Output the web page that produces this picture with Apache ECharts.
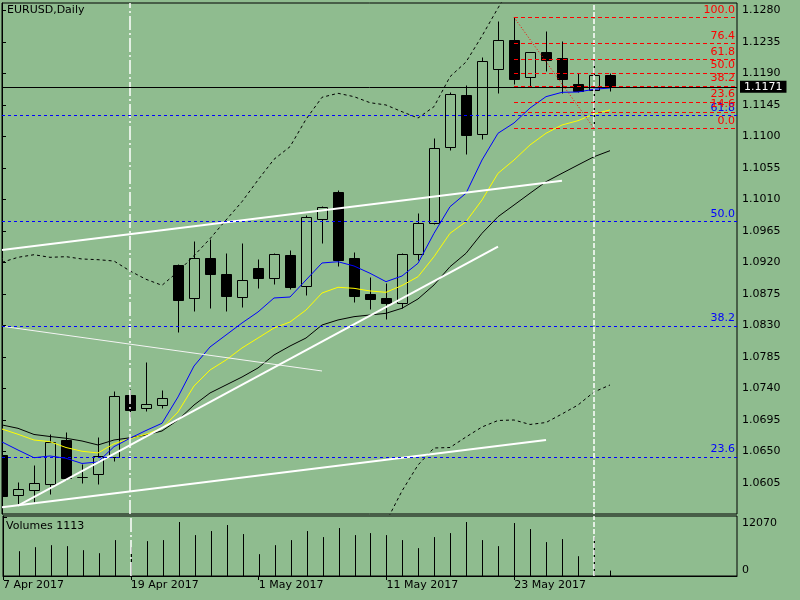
<!DOCTYPE html>
<html><head><meta charset="utf-8">
<script src="https://cdn.jsdelivr.net/npm/echarts@6/dist/echarts.min.js"></script>
<style>html,body{margin:0;padding:0;background:#8fbc8f;}#c{width:800px;height:600px;}</style>
</head><body><div id="c"></div>
<script>
const dates = ['2017-04-07','2017-04-10','2017-04-11','2017-04-12','2017-04-13','2017-04-14','2017-04-17','2017-04-18','2017-04-19','2017-04-20','2017-04-21','2017-04-24','2017-04-25','2017-04-26','2017-04-27','2017-04-28','2017-05-01','2017-05-02','2017-05-03','2017-05-04','2017-05-05','2017-05-08','2017-05-09','2017-05-10','2017-05-11','2017-05-12','2017-05-15','2017-05-16','2017-05-17','2017-05-18','2017-05-19','2017-05-22','2017-05-23','2017-05-24','2017-05-25','2017-05-26','2017-05-29','2017-05-30','2017-05-31'];
const open  = [1.06450,1.05874,1.05946,1.06031,1.06660,1.06136,1.06174,1.06417,1.07303,1.07117,1.07164,1.09164,1.08689,1.09260,1.09031,1.08711,1.09117,1.08983,1.09303,1.08869,1.09826,1.10203,1.09260,1.08746,1.08693,1.08617,1.09317,1.09760,1.10846,1.11589,1.11040,1.11969,1.12374,1.11846,1.12203,1.12117,1.11746,1.11660,1.11874];
const high  = [1.06521,1.06060,1.06303,1.06746,1.06774,1.06321,1.06703,1.07364,1.07389,1.07774,1.07379,1.09179,1.09507,1.09536,1.09336,1.09479,1.09250,1.09336,1.09379,1.09883,1.10011,1.10236,1.09346,1.08997,1.08911,1.09340,1.09903,1.10983,1.11640,1.11736,1.12131,1.12650,1.12703,1.12207,1.12507,1.12360,1.11911,1.12093,1.11903];
const low   = [1.05807,1.05736,1.05783,1.05889,1.06093,1.06054,1.06031,1.06369,1.06997,1.07083,1.07121,1.08211,1.08511,1.08554,1.08511,1.08569,1.08840,1.08889,1.08821,1.08736,1.09483,1.09154,1.08640,1.08531,1.08389,1.08546,1.09236,1.09750,1.10807,1.10750,1.10969,1.11626,1.11754,1.11703,1.11940,1.11617,1.11636,1.11117,1.11654];
const close = [1.05869,1.05960,1.06046,1.06631,1.06126,1.06138,1.06431,1.07297,1.07097,1.07174,1.07269,1.08669,1.09260,1.09040,1.08726,1.08946,1.08983,1.09317,1.08850,1.09846,1.09989,1.09236,1.08726,1.08674,1.08617,1.09317,1.09760,1.10831,1.11603,1.11026,1.12074,1.12374,1.11826,1.12203,1.12093,1.11826,1.11646,1.11874,1.11710];
const volume = [6000,5100,5930,6340,6140,5310,4690,7380,5930,7170,7380,11100,8410,9240,10480,8620,4490,6340,7380,9240,8000,9860,8410,8820,8410,7380,5730,8000,8820,11100,7380,6140,10890,9650,6970,7590,4070,8000,1113];
const maBlue   = [1.06636,1.06521,1.06411,1.06436,1.06403,1.06329,1.06350,1.06569,1.06689,1.06800,1.06903,1.07279,1.07721,1.07993,1.08164,1.08336,1.08493,1.08693,1.08707,1.08950,1.09193,1.09211,1.09150,1.09046,1.08926,1.09007,1.09189,1.09617,1.09997,1.10189,1.10664,1.11046,1.11193,1.11407,1.11569,1.11631,1.11636,1.11674,1.11693];
const maYellow = [1.06821,1.06746,1.06664,1.06640,1.06557,1.06503,1.06479,1.06611,1.06683,1.06747,1.06829,1.07064,1.07436,1.07664,1.07807,1.07979,1.08121,1.08264,1.08350,1.08521,1.08764,1.08846,1.08831,1.08793,1.08774,1.08871,1.08997,1.09283,1.09617,1.09783,1.10093,1.10474,1.10664,1.10879,1.11046,1.11164,1.11226,1.11321,1.11379];
const maBlack  = [1.06879,1.06831,1.06743,1.06714,1.06689,1.06650,1.06593,1.06664,1.06696,1.06736,1.06793,1.06950,1.07164,1.07336,1.07450,1.07564,1.07693,1.07879,1.08007,1.08121,1.08307,1.08379,1.08426,1.08450,1.08474,1.08546,1.08679,1.08879,1.09140,1.09331,1.09617,1.09854,1.10021,1.10189,1.10354,1.10474,1.10593,1.10711,1.10797];
const bbUpper = [1.09203,1.09274,1.09311,1.09274,1.09283,1.09250,1.09240,1.09221,1.09079,1.08960,1.08874,1.09069,1.09297,1.09540,1.09807,1.10069,1.10379,1.10674,1.10854,1.11246,1.11560,1.11617,1.11569,1.11483,1.11450,1.11354,1.11264,1.11426,1.11854,1.12064,1.12436,1.12836,1.13207,null,null,null,null,null,null];
const bbLower = [null,null,null,null,null,null,null,null,null,null,null,null,null,null,null,null,null,null,null,null,null,null,null,null,1.05493,1.05936,1.06307,1.06550,1.06557,1.06707,1.06850,1.06943,1.06950,1.06886,1.06914,1.07036,1.07164,1.07350,1.07450];
const priceTicks = [1.0605,1.0650,1.0695,1.0740,1.0785,1.0830,1.0875,1.0920,1.0965,1.1010,1.1055,1.1100,1.1145,1.1190,1.1235,1.1280];
const dateTickIdx = [0,8,16,24,32];
const dateTickLabels = ['7 Apr 2017','19 Apr 2017','1 May 2017','11 May 2017','23 May 2017'];
const volTicks = [0,12070];
const fibRedLevels = ['100.0','76.4','61.8','50.0','38.2','23.6','14.6','0.0'];
const fibRedPrices = [1.12703,1.12329,1.12097,1.11910,1.11723,1.11491,1.11349,1.11117];
const fibBlueLevels = ['61.8','50.0','38.2','23.6'];
const fibBluePrices = [1.11303,1.09789,1.08293,1.06421];
const fibTrend = [[32,1.12703],[37,1.11117]];
const lastPrice = 1.1171;
const trendThick = [[[0,1.09379],[35,1.10369]],[[1,1.05726],[31,1.09426]],[[0,1.05705],[34,1.06664]]];
const trendThin = [[0,1.08289],[20,1.07650]];
const vLines = [8,37];

const BG = '#8fbc8f';
const FONT = 'DejaVu Sans';
const X_MAX = 45.9375;

const candleData = dates.map((d,i)=>[i, open[i], close[i], low[i], high[i]]);
const volData = volume.map((v,i)=>[i,v]);
const toXY = arr => arr.map((v,i)=>[i,v]).filter(p=>p[1]!==null);

function renderCandle(params, api){
  const i = api.value(0);
  const o = api.coord([i, api.value(1)]);
  const c = api.coord([i, api.value(2)]);
  const l = api.coord([i, api.value(3)]);
  const h = api.coord([i, api.value(4)]);
  const x = Math.round(o[0]) + 0.5;
  const bull = api.value(2) >= api.value(1);
  const top = Math.round(Math.min(o[1], c[1])) + 0.5;
  let bot = Math.round(Math.max(o[1], c[1])) + 0.5;
  return {type:'group', children:[
    {type:'line', shape:{x1:x, y1:Math.round(h[1])+0.5, x2:x, y2:Math.round(l[1])+0.5}, style:{stroke:'#000', lineWidth:1}},
    {type:'rect', shape:{x:x-5, y:top, width:10, height:Math.max(bot-top,0)}, style:{fill: bull ? BG : '#000', stroke:'#000', lineWidth:1}}
  ]};
}
function renderVol(params, api){
  const i = api.value(0);
  const p0 = api.coord([i, 0]);
  const p1 = api.coord([i, api.value(1)]);
  const x = Math.round(p0[0]) + 0.5;
  return {type:'line', shape:{x1:x, y1:p0[1], x2:x, y2:p1[1]}, style:{stroke:'#000', lineWidth:1}};
}

const txt = {fontFamily: FONT, fontSize: 11, color: '#000'};
const lineSeries = (data, color, dash) => ({
  type:'line', xAxisIndex:0, yAxisIndex:0, data: toXY(data), symbol:'none', z:3, silent:true,
  lineStyle:{color, width:1, type: dash || 'solid'}, emphasis:{disabled:true}
});
const helper = (xi, z, markLine) => ({type:'line', xAxisIndex:xi, yAxisIndex:xi, data:[], z, silent:true,
  markLine: Object.assign({symbol:'none', silent:true, precision:5, animation:false, emphasis:{disabled:true}}, markLine)});

const vLineStyles = [{color:'#fff', width:1.5, type:[14,3,2,3]}, {color:'#fff', width:1.5, type:[5,2]}];

const option = {
  backgroundColor: BG,
  animation: false,
  textStyle: {fontFamily: FONT},
  title: [
    {text:'EURUSD,Daily', left:7, top:5, padding:0, textStyle:Object.assign({fontWeight:'normal'}, txt)},
    {text:'Volumes ' + volume[volume.length-1], left:6, top:521, padding:0, textStyle:Object.assign({fontWeight:'normal'}, txt)}
  ],
  grid: [
    {left:2, right:63, top:3, height:511, show:true, borderColor:'#000', borderWidth:1, backgroundColor:'transparent'},
    {left:2, right:63, top:516, height:60, show:true, borderColor:'#000', borderWidth:1, backgroundColor:'transparent'}
  ],
  xAxis: [
    {type:'value', gridIndex:0, min:0, max:X_MAX, show:false},
    {type:'value', gridIndex:1, min:0, max:X_MAX, splitLine:{show:false},
     axisLine:{show:true, onZero:false, lineStyle:{color:'#000', width:1}},
     axisTick:{show:true, customValues:dateTickIdx, length:4, lineStyle:{color:'#000'}},
     axisLabel:Object.assign({customValues:dateTickIdx, align:'left', margin:4,
       formatter:v=>dateTickLabels[dateTickIdx.indexOf(v)]}, txt)}
  ],
  yAxis: [
    {type:'value', gridIndex:0, position:'right', min:1.05607, max:1.12907, splitLine:{show:false},
     axisLine:{show:true, lineStyle:{color:'#000', width:1}},
     axisTick:{show:true, customValues:priceTicks, length:4, lineStyle:{color:'#000'}},
     axisLabel:Object.assign({customValues:priceTicks, margin:5, formatter:v=>v.toFixed(4)}, txt)},
    {type:'value', gridIndex:1, position:'right', min:0, max:12337, splitLine:{show:false},
     axisLine:{show:true, lineStyle:{color:'#000', width:1}},
     axisTick:{show:true, customValues:volTicks, length:4, lineStyle:{color:'#000'}},
     axisLabel:Object.assign({customValues:volTicks, margin:5,
       formatter:v=> v===0 ? '{b|'+v+'}' : '{t|'+v+'}',
       rich:{t:Object.assign({padding:[12,0,0,0]}, txt), b:Object.assign({padding:[0,0,12,0]}, txt)}}, txt)}
  ],
  series: [
    helper(0, 1, {data: vLines.map((v,k)=>({xAxis:v, lineStyle:vLineStyles[k]})), label:{show:false}}),
    helper(1, 1, {data: vLines.map((v,k)=>({xAxis:v, lineStyle:vLineStyles[k]})), label:{show:false}}),
    {type:'custom', xAxisIndex:0, yAxisIndex:0, renderItem:renderCandle, data:candleData, clip:true, z:2, silent:true,
     encode:{x:0, y:[1,2,3,4]}},
    {type:'custom', xAxisIndex:1, yAxisIndex:1, renderItem:renderVol, data:volData, clip:true, z:2, silent:true,
     encode:{x:0, y:1}},
    lineSeries(bbUpper, '#000', [3,3]),
    lineSeries(bbLower, '#000', [3,3]),
    lineSeries(maBlack, '#000'),
    lineSeries(maYellow, '#ffff00'),
    lineSeries(maBlue, '#0000ff'),
    helper(0, 4, {data: trendThick.map(s=>[{coord:s[0]},{coord:s[1]}]), lineStyle:{color:'#fff', width:2, type:'solid'}, label:{show:false}}),
    helper(0, 4, {data: [[{coord:trendThin[0]},{coord:trendThin[1]}]], lineStyle:{color:'#f4f4f4', width:1, type:'solid'}, label:{show:false}}),
    helper(0, 4, {data: fibBluePrices.map((p,k)=>[{name:fibBlueLevels[k], coord:[0,p]},{coord:[X_MAX,p]}]),
      lineStyle:{color:'#0000ff', width:1, type:[3,3]},
      label:Object.assign({show:true, position:'insideEndTop', formatter:'{b}', distance:[2,2]}, txt, {color:'#0000ff'})}),
    helper(0, 4, {data: fibRedPrices.map((p,k)=>[{name:fibRedLevels[k], coord:[32,p]},{coord:[X_MAX,p]}]).concat(
        [[{coord:fibTrend[0], lineStyle:{type:[1,2], width:1, color:'#ff0000'}, label:{show:false}},{coord:fibTrend[1]}]]),
      lineStyle:{color:'#ff0000', width:1, type:[4,3]},
      label:Object.assign({show:true, position:'insideEndTop', formatter:'{b}', distance:[2,2]}, txt, {color:'#ff0000'})}),
    helper(0, 5, {data:[{yAxis:lastPrice}], lineStyle:{color:'#000', width:1, type:'solid'},
      label:Object.assign({show:true, position:'end', formatter:lastPrice.toFixed(4), distance:3,
        backgroundColor:'#000', padding:[1,4,0,4]}, txt, {color:'#fff'})})
  ]
};
echarts.init(document.getElementById('c'), null, {renderer:'canvas'}).setOption(option);
</script></body></html>
